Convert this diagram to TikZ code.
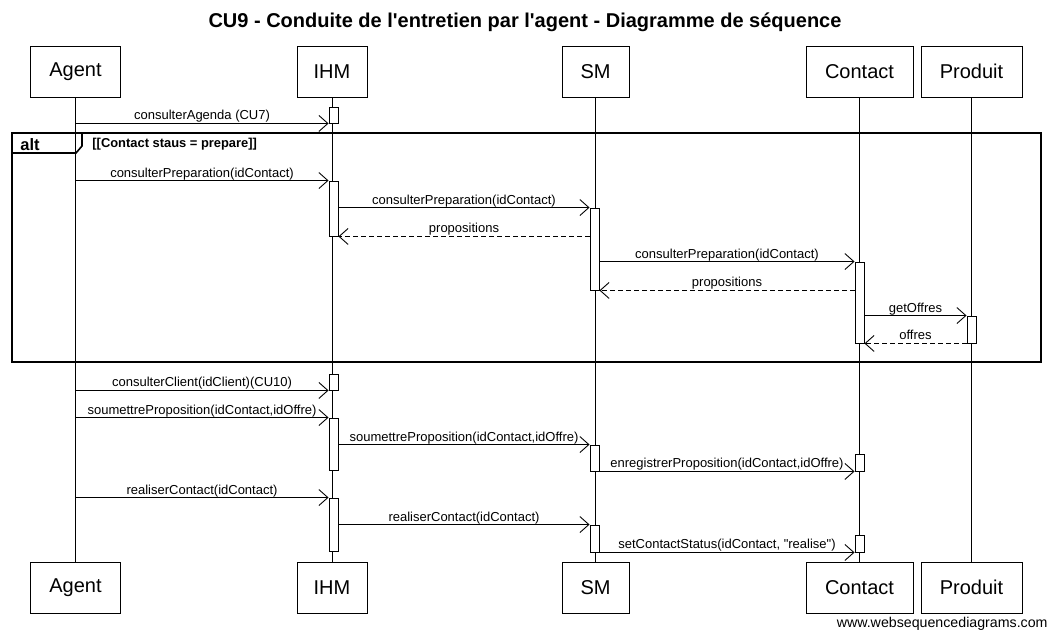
\documentclass[tikz,border=0pt]{standalone}
\usepackage{fontspec}
\setmainfont{Liberation Sans}
\usetikzlibrary{arrows.meta,positioning}

\begin{document}
\begin{tikzpicture}[
    x=1pt, y=-1pt, line width=0.9pt,
    >={Straight Barb[length=9pt,width=16pt]},
    actor/.style={draw, minimum height=51pt, inner sep=0pt, font=\fontsize{20}{22}\selectfont},
    act/.style={draw, fill=white, minimum width=9pt, inner sep=0pt},
    msg/.style={->},
    ret/.style={->, dash pattern=on 5pt off 3pt},
    lbl/.style={midway, anchor=base, yshift=3.5pt, inner sep=0pt, font=\fontsize{13}{15}\selectfont},
  ]
  \useasboundingbox (0,0) rectangle (1050,635);

  \node[font=\bfseries\fontsize{20}{22}\selectfont] (title) at (525,22)
    {CU9 - Conduite de l\textquotesingle entretien par l\textquotesingle agent - Diagramme de séquence};

  % participants, top and bottom
  \node[actor, minimum width=90pt] (agent) at (75.5,71.5) {Agent};
  \node[actor, minimum width=70pt] (ihm) at (332,71.5) {IHM};
  \node[actor, minimum width=67pt] (sm) at (595.5,71.5) {SM};
  \node[actor, minimum width=107pt] (contact) at (859.5,71.5) {Contact};
  \node[actor, minimum width=101pt] (produit) at (971.5,71.5) {Produit};
  \node[actor, minimum width=90pt] (agentB) at (75.5,587.5) {Agent};
  \node[actor, minimum width=70pt] (ihmB) at (332,587.5) {IHM};
  \node[actor, minimum width=67pt] (smB) at (595.5,587.5) {SM};
  \node[actor, minimum width=107pt] (contactB) at (859.5,587.5) {Contact};
  \node[actor, minimum width=101pt] (produitB) at (971.5,587.5) {Produit};
  \foreach \p in {agent, ihm, sm, contact, produit}
    \draw (\p) -- (\p B);

  % alt frame
  \draw[line width=1.6pt] (12,133) rectangle (1041,362);
  \draw[line width=1.6pt] (12,153) -- (76,153) -- (82,146) -- (82,133);
  \node[anchor=base west, inner sep=0pt, font=\bfseries\fontsize{16.5}{18}\selectfont] (alt) at (20,150) {alt};
  \node[anchor=base west, inner sep=0pt, font=\bfseries\fontsize{12.9}{14}\selectfont] (guard) at (92,147.5)
    {[[Contact staus = prepare]]};

  % activations
  \node[act, minimum height=16pt] (a1) at (333.5,115) {};
  \node[act, minimum height=55pt] (a2) at (333.5,208.5) {};
  \node[act, minimum height=16pt] (a3) at (333.5,382) {};
  \node[act, minimum height=52pt] (a4) at (333.5,444) {};
  \node[act, minimum height=53pt] (a5) at (333.5,524.5) {};
  \node[act, minimum height=82pt] (s1) at (594.5,249) {};
  \node[act, minimum height=26pt] (s2) at (594.5,458) {};
  \node[act, minimum height=27pt] (s3) at (594.5,538.5) {};
  \node[act, minimum height=81pt] (c1) at (859.5,302.5) {};
  \node[act, minimum height=17pt] (c2) at (859.5,462.5) {};
  \node[act, minimum height=17pt] (c3) at (859.5,543.5) {};
  \node[act, minimum height=27pt] (p1) at (971.5,329.5) {};

  % messages
  \draw[msg] (agent |- a1.south) -- (a1.south west) node[lbl] {consulterAgenda (CU7)};
  \draw[msg] (agent |- a2.north) -- (a2.north west) node[lbl] {consulterPreparation(idContact)};
  \draw[msg] (a2.east |- s1.north) -- (s1.north west) node[lbl] {consulterPreparation(idContact)};
  \draw[ret] (s1.west |- a2.south) -- (a2.south east) node[lbl] {propositions};
  \draw[msg] (s1.east |- c1.north) -- (c1.north west) node[lbl] {consulterPreparation(idContact)};
  \draw[ret] (c1.west |- s1.south) -- (s1.south east) node[lbl] {propositions};
  \draw[msg] (c1.east |- p1.north) -- (p1.north west) node[lbl] {getOffres};
  \draw[ret] (p1.south west) -- (c1.south east) node[lbl] {offres};
  \draw[msg] (agent |- a3.south) -- (a3.south west) node[lbl] {consulterClient(idClient)(CU10)};
  \draw[msg] (agent |- a4.north) -- (a4.north west) node[lbl] {soumettreProposition(idContact,idOffre)};
  \draw[msg] (a4.east |- s2.north) -- (s2.north west) node[lbl] {soumettreProposition(idContact,idOffre)};
  \draw[msg] (s2.south east) -- (c2.south west) node[lbl] {enregistrerProposition(idContact,idOffre)};
  \draw[msg] (agent |- a5.north) -- (a5.north west) node[lbl] {realiserContact(idContact)};
  \draw[msg] (a5.east |- s3.north) -- (s3.north west) node[lbl] {realiserContact(idContact)};
  \draw[msg] (s3.south east) -- (c3.south west) node[lbl] {setContactStatus(idContact, \textquotedbl realise\textquotedbl)};

  \node[anchor=base east, inner sep=0pt, font=\fontsize{14.2}{16}\selectfont] (footer) at (1048,627)
    {www.websequencediagrams.com};
\end{tikzpicture}
\end{document}
